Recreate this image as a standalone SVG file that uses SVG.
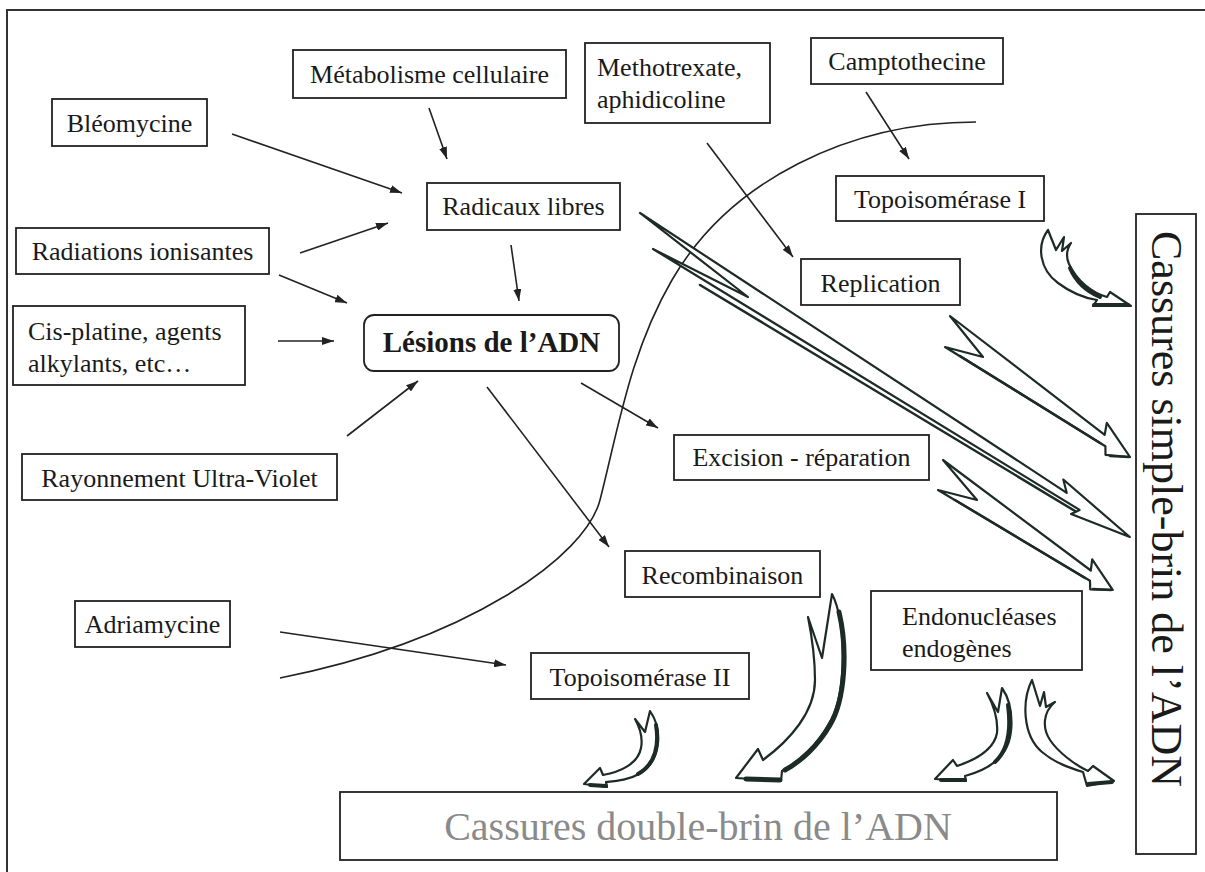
<svg xmlns="http://www.w3.org/2000/svg" width="1205" height="872" viewBox="0 0 1205 872">
<style>
.box{fill:#fff;stroke:#222;stroke-width:1.8}
.t{font-family:"Liberation Serif","Times New Roman",serif;font-size:26px;fill:#1a1a1a}
.c{text-anchor:middle}
.ln{fill:none;stroke:#222;stroke-width:1.6}
.blk{fill:#fff;stroke:#1d2b27;stroke-width:2.2;stroke-linejoin:round}
.sh{fill:none;stroke:#1d2b27;stroke-width:4;stroke-linecap:round}
</style>
<defs>
<marker id="ah" viewBox="0 0 12 8" refX="12" refY="4" markerWidth="12" markerHeight="8" markerUnits="userSpaceOnUse" orient="auto"><path d="M0,0 L12,4 L0,8 z" fill="#222"/></marker>
</defs>
<rect width="1205" height="872" fill="#fff"/>
<path d="M7,872 V10 H1205" fill="none" stroke="#333" stroke-width="2"/>

<g id="connectors">
<path class="ln" d="M976,122 C850,122 730,180 672,280 C630,352 618,430 600,500 C585.6,556 470,640 280,678"/>
<path class="ln" marker-end="url(#ah)" d="M232,134 L402,193"/>
<path class="ln" marker-end="url(#ah)" d="M429,108 L447,159"/>
<path class="ln" marker-end="url(#ah)" d="M300,253 L388,223"/>
<path class="ln" marker-end="url(#ah)" d="M279,275 L347,303"/>
<path class="ln" marker-end="url(#ah)" d="M511,245 L519,301"/>
<path class="ln" marker-end="url(#ah)" d="M278,341 L334,341"/>
<path class="ln" marker-end="url(#ah)" d="M347,436 L418,381"/>
<path class="ln" marker-end="url(#ah)" d="M581,383 L658,428"/>
<path class="ln" marker-end="url(#ah)" d="M487,387 L609,547"/>
<path class="ln" marker-end="url(#ah)" d="M707,143 L793,257"/>
<path class="ln" marker-end="url(#ah)" d="M866,92 L909,159"/>
<path class="ln" marker-end="url(#ah)" d="M280,632 L506,665"/>

<!-- straight block arrows -->
<path class="blk" d="M640,213 L1066.7,492.8 L1063.3,479.5 L1129.8,537 L1071.1,514 L1079.6,509.9 L653,249 L748,297 Z"/>
<path class="sh" style="stroke-width:2.5" d="M700,285 L1075,511"/>
<path class="blk" d="M950,316 L1104.7,434.8 L1106.8,422.9 L1130,457 L1105.5,454.8 L1105.4,446.2 L945,347 L983,357 Z"/>
<path class="sh" style="stroke-width:2.5" d="M960,356 L1100,443 M1110,456 L1129,457"/>
<path class="blk" d="M943,460 L1090.8,570.5 L1092.2,559.4 L1112.7,589.9 L1090.2,589.3 L1090,580.8 L938,490 L977,500 Z"/>
<path class="sh" style="stroke-width:2.5" d="M955,500 L1085,578 M1093,589 L1111,590"/>

<!-- curved block arrows -->
<path class="blk" d="M1048,230 C1036,246 1040,270 1058,283 C1070,292 1084,298 1097,300 L1093,306 L1131,306 L1110,292 L1107,297 C1092,293 1077,281 1069,264 C1065,255 1067,249 1071,243 L1062,251 L1064,237 L1056,250 Z"/>
<path class="sh" d="M1070,268 C1076,282 1088,292 1100,297 M1094,305 L1128,305"/>
<path class="blk" d="M832,594 C846,620 847,690 831,720 C816,748 796,764 782,771 L781,781 L736,778 L758,749 L763,760 C790,740 815,712 815,680 C815,652 811,632 808,617 L822,658 Z"/>
<path class="sh" style="stroke-width:5" d="M839,612 C848,650 845,700 830,725 C818,746 800,762 785,770 M746,779 L780,780"/>
<path class="blk" d="M650,711 C663,730 661,760 641,773 C629,780 616,781 606,782 L607,787 L584,784 L600,768 L603,775 C620,772 638,764 641,748 C643,738 640,728 635,719 L645,732 Z"/>
<path class="sh" d="M656,725 C660,750 652,766 638,774 M590,785 L606,786"/>
<path class="blk" d="M1002,688 C1014,705 1016,740 1000,757 C990,768 976,773 965,776 L966,781 L935,779 L953,760 L957,766 C975,760 994,750 997,733 C998,722 995,708 987,693 L998,712 Z"/>
<path class="sh" d="M1008,705 C1012,735 1006,752 995,762 M941,780 L965,780"/>
<path class="blk" d="M1032,680 C1022,700 1022,735 1042,752 C1055,763 1070,768 1083,772 L1087,786 L1114,781 L1093,766 L1088,771 C1075,765 1058,752 1050,740 C1042,728 1043,712 1055,702 L1046,707 L1044,692 L1040,706 Z"/>
<path class="sh" d="M1088,784 L1112,782"/>
</g>

<g id="n-metabolisme"><rect class="box" x="293" y="50" width="273" height="48"/><text class="t c" x="429.5" y="83">Métabolisme cellulaire</text></g>
<g id="n-methotrexate"><rect class="box" x="585" y="43" width="185" height="80"/><text class="t" x="597" y="76">Methotrexate,</text><text class="t" x="597" y="108">aphidicoline</text></g>
<g id="n-camptothecine"><rect class="box" x="811" y="38" width="192" height="46"/><text class="t c" x="907" y="70">Camptothecine</text></g>
<g id="n-bleomycine"><rect class="box" x="52" y="99" width="155" height="47"/><text class="t c" x="129.5" y="132">Bléomycine</text></g>
<g id="n-radicaux"><rect class="box" x="427" y="183" width="193" height="47"/><text class="t c" x="523.5" y="215">Radicaux libres</text></g>
<g id="n-topo1"><rect class="box" x="836" y="176" width="208" height="45"/><text class="t c" x="940" y="208">Topoisomérase I</text></g>
<g id="n-radiations"><rect class="box" x="16" y="228" width="253" height="46"/><text class="t c" x="142.5" y="260">Radiations ionisantes</text></g>
<g id="n-replication"><rect class="box" x="801" y="259" width="159" height="46"/><text class="t c" x="880.5" y="292">Replication</text></g>
<g id="n-cisplatine"><rect class="box" x="13" y="306" width="232" height="79"/><text class="t" x="28" y="340">Cis-platine, agents</text><text class="t" x="28" y="372">alkylants, etc…</text></g>
<g id="n-lesions"><rect class="box" x="364" y="315" width="255" height="56" rx="10"/><text class="t c" x="491.5" y="352" style="font-weight:bold;font-size:29px">Lésions de l’ADN</text></g>
<g id="n-uv"><rect class="box" x="22" y="454" width="315" height="46"/><text class="t c" x="179.5" y="487">Rayonnement Ultra-Violet</text></g>
<g id="n-excision"><rect class="box" x="674" y="435" width="255" height="45"/><text class="t c" x="801.5" y="466">Excision - réparation</text></g>
<g id="n-recombinaison"><rect class="box" x="625" y="551" width="195" height="46"/><text class="t c" x="722.5" y="584">Recombinaison</text></g>
<g id="n-endonucleases"><rect class="box" x="871" y="591" width="211" height="79"/><text class="t" x="902" y="625">Endonucléases</text><text class="t" x="902" y="657">endogènes</text></g>
<g id="n-adriamycine"><rect class="box" x="75" y="601" width="155" height="46"/><text class="t c" x="152.5" y="633">Adriamycine</text></g>
<g id="n-topo2"><rect class="box" x="531" y="653" width="218" height="46"/><text class="t c" x="640" y="686">Topoisomérase II</text></g>
<g id="n-double-brin"><rect class="box" x="340" y="792" width="717" height="68"/><text class="t c" x="698" y="840" style="font-size:40px;fill:#8a8a8a">Cassures double-brin de l’ADN</text></g>
<g id="n-simple-brin"><rect class="box" x="1136" y="214" width="60" height="640"/><text class="t c" transform="translate(1152,509) rotate(90)" style="font-size:44px">Cassures simple-brin de l’ADN</text></g>
</svg>
